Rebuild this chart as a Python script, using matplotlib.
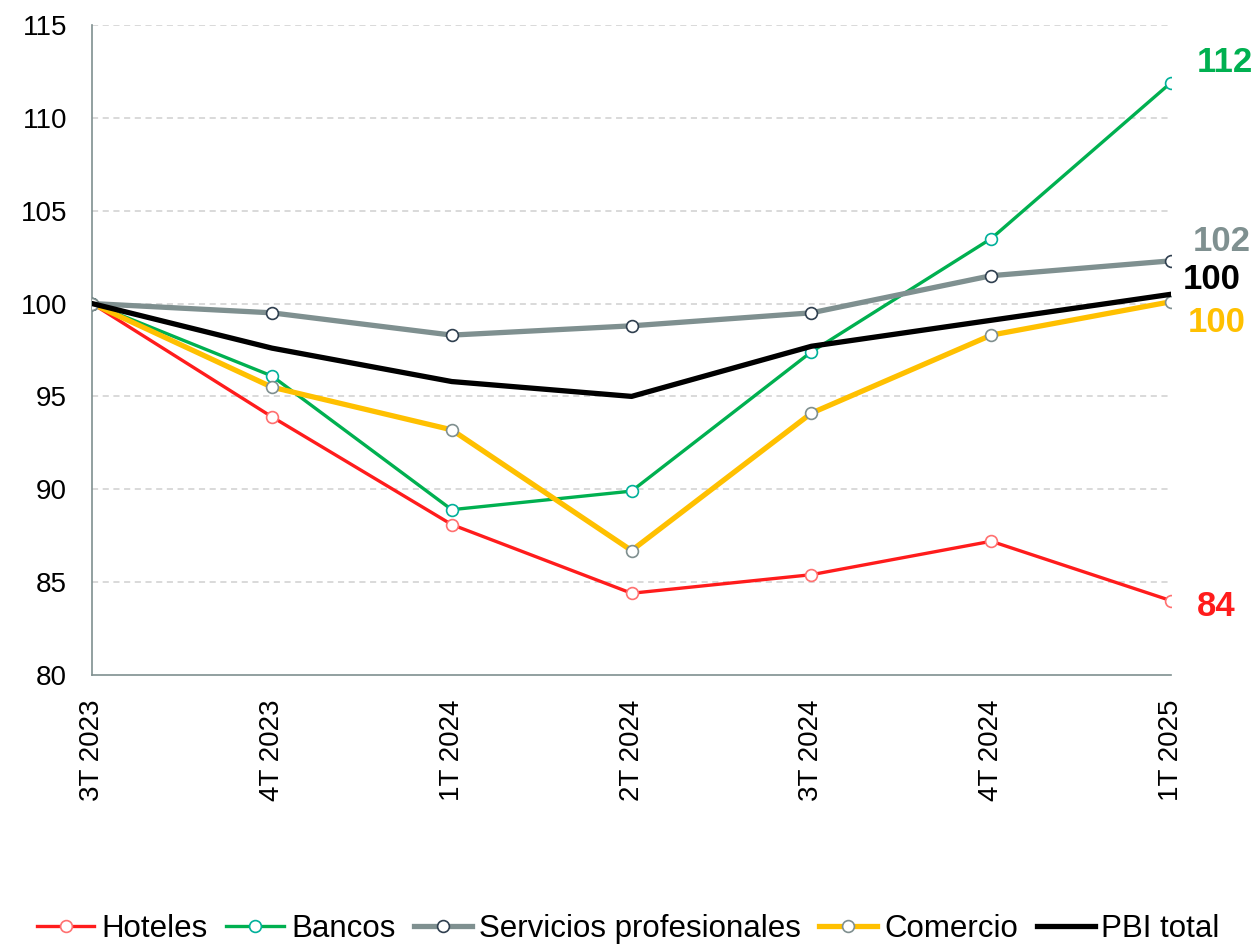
import numpy as np
import matplotlib.pyplot as plt
from matplotlib import rc

rc('font', family=['Liberation Sans', 'DejaVu Sans'], size=20)

# quarters on the x axis
quarters = ["3T 2023", "4T 2023", "1T 2024", "2T 2024", "3T 2024", "4T 2024", "1T 2025"]

# index values (3T 2023 = 100)
hoteles = [100, 93.9, 88.1, 84.4, 85.4, 87.2, 84.0]
bancos = [100, 96.1, 88.9, 89.9, 97.4, 103.5, 111.9]
servicios = [100, 99.5, 98.3, 98.8, 99.5, 101.5, 102.3]
comercio = [100, 95.5, 93.2, 86.7, 94.1, 98.3, 100.1]
pbi = [100, 97.6, 95.8, 95.0, 97.7, 99.1, 100.5]

end_labels = ["84", "112", "102", "100", "100"]

x = np.arange(len(quarters))

fig = plt.figure(figsize=(12.54, 9.46), dpi=100)
ax = fig.add_axes([0.0734, 0.2865, 0.8605, 0.6871])

# gridlines first so lines sit on top
for v in range(85, 116, 5):
    ax.axhline(v, color='#d0d0d0', lw=1.1, ls=(0, (4, 3)), zorder=0)

mk = dict(marker='o', markersize=8.5, markerfacecolor='white', markeredgewidth=1.2)

ax.plot(x, hoteles, color='#ff1c1c', lw=2.4, markeredgecolor='#ff7070', label='Hoteles', zorder=3, **mk)
ax.plot(x, bancos, color='#00b050', lw=2.4, markeredgecolor='#00b09a', label='Bancos', zorder=3, **mk)
ax.plot(x, servicios, color='#7f9090', lw=3.8, markeredgecolor='#2f3f4f', label='Servicios profesionales', zorder=3, **mk)
ax.plot(x, comercio, color='#ffc000', lw=3.8, markeredgecolor='#7f8f8f', label='Comercio', zorder=3, **mk)
ax.plot(x, pbi, color='black', lw=3.8, label='PBI total', zorder=4)

# end-of-line value labels
lab_style = dict(textcoords='offset pixels', fontsize=25, fontweight='bold', va='center', ha='left',
                 annotation_clip=False)
ax.annotate(end_labels[0], xy=(6, hoteles[-1]), xytext=(26, -6), color='#ff1c1c', **lab_style)
ax.annotate(end_labels[1], xy=(6, bancos[-1]), xytext=(26, 20), color='#00b050', **lab_style)
ax.annotate(end_labels[2], xy=(6, servicios[-1]), xytext=(22, 19), color='#7f9090', **lab_style)
ax.annotate(end_labels[3], xy=(6, pbi[-1]), xytext=(12, 15), color='black', **lab_style)
ax.annotate(end_labels[4], xy=(6, comercio[-1]), xytext=(17, -21), color='#ffc000', **lab_style)

ax.set_xlim(0, 6)
ax.set_ylim(80, 115)
ax.set_yticks(range(80, 116, 5))
ax.set_xticks(x)
ax.set_xticklabels(quarters, rotation=90)
ax.tick_params(length=0, pad=18)

for s in ['top', 'right']:
    ax.spines[s].set_visible(False)
for s in ['left', 'bottom']:
    ax.spines[s].set_color('#7f9090')
    ax.spines[s].set_linewidth(1.2)

fig.legend(loc='center', bbox_to_anchor=(0.501, 0.018), ncol=5, frameon=False, fontsize=22.5,
           handlelength=1.85, handletextpad=0.22, columnspacing=0.6)

plt.savefig("out.png", dpi=100)
